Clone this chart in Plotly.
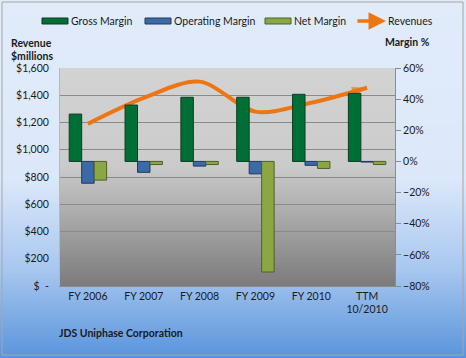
import base64, struct, zlib
import plotly.graph_objects as go

categories = ["FY 2006", "FY 2007", "FY 2008", "FY 2009", "FY 2010", "TTM<br>10/2010"]
gross_margin = [30.4, 36.2, 41.2, 41.2, 43.1, 43.7]
operating_margin = [-14.0, -7.0, -3.0, -8.0, -2.5, -0.4]
net_margin = [-12.0, -2.0, -2.0, -71.0, -4.5, -2.0]
revenues = [1190, 1380, 1500, 1280, 1345, 1455]

left_ticks = [0, 200, 400, 600, 800, 1000, 1200, 1400, 1600]
left_labels = ["$  -", "$200", "$400", "$600", "$800", "$1,000", "$1,200", "$1,400", "$1,600"]

W, H = 466, 358
L, R, T, B = 60, 71, 68, 72
PW, PH = W - L - R, H - T - B

GREEN, GREEN_LN = "#006f35", "#0b3d22"
BLUE, BLUE_LN = "#3b6aa6", "#1f3a63"
OLIVE, OLIVE_LN = "#8ba743", "#4f6126"
ORANGE = "#ee7612"
FONT = "Lato"
FS = 10.5


def px(x):
    return (x - L) / PW


def py(y):
    return 1 - (y - T) / PH


def hex2rgb(h):
    h = h.lstrip('#')
    return tuple(int(h[i:i + 2], 16) for i in (0, 2, 4))


def gradient_png(stops, n=256):
    rows = []
    for i in range(n):
        t = i / (n - 1)
        for j in range(len(stops) - 1):
            t0, c0 = stops[j]
            t1, c1 = stops[j + 1]
            if t0 <= t <= t1:
                f = 0 if t1 == t0 else (t - t0) / (t1 - t0)
                a, b = hex2rgb(c0), hex2rgb(c1)
                rgb = tuple(int(round(a[k] + (b[k] - a[k]) * f)) for k in range(3))
                break
        rows.append(b"\x00" + bytes(rgb) * 4)
    raw = b"".join(rows)

    def chunk(tag, data):
        c = tag + data
        return struct.pack(">I", len(data)) + c + struct.pack(">I", zlib.crc32(c) & 0xffffffff)

    png = b"\x89PNG\r\n\x1a\n" + chunk(b"IHDR", struct.pack(">IIBBBBB", 4, n, 8, 2, 0, 0, 0)) \
        + chunk(b"IDAT", zlib.compress(raw)) + chunk(b"IEND", b"")
    return "data:image/png;base64," + base64.b64encode(png).decode()


paper_grad = gradient_png([(0, "#e1ebfa"), (0.5, "#dce8fa"), (0.75, "#a9c8ef"), (1.0, "#5a95dc")])
plot_grad = gradient_png([(0, "#d3d3d3"), (0.45, "#cbcbcb"), (1.0, "#7c7c7c")])

fig = go.Figure()
fig.add_trace(go.Bar(x=categories, y=gross_margin, name="Gross Margin", yaxis="y2",
                     marker=dict(color=GREEN, line=dict(color=GREEN_LN, width=1))))
fig.add_trace(go.Bar(x=categories, y=operating_margin, name="Operating Margin", yaxis="y2",
                     marker=dict(color=BLUE, line=dict(color=BLUE_LN, width=1))))
fig.add_trace(go.Bar(x=categories, y=net_margin, name="Net Margin", yaxis="y2",
                     marker=dict(color=OLIVE, line=dict(color=OLIVE_LN, width=1))))
sizes = [0] * (len(revenues) - 1) + [16]
fig.add_trace(go.Scatter(x=categories, y=revenues, name="Revenues", yaxis="y", mode="lines+markers",
                         line=dict(color=ORANGE, width=4, shape="spline", smoothing=0.9),
                         marker=dict(symbol="arrow", angleref="previous", size=sizes, color=ORANGE,
                                     line=dict(width=0))))

# manual legend (swatches + labels) placed like the reference
legend_items = [("Gross Margin", GREEN, GREEN_LN, 42), ("Operating Margin", BLUE, BLUE_LN, 145),
                ("Net Margin", OLIVE, OLIVE_LN, 265)]
shapes = []
annotations = []
for name, col, lc, x0 in legend_items:
    shapes.append(dict(type="rect", xref="paper", yref="paper", x0=px(x0), x1=px(x0 + 26),
                       y0=py(24), y1=py(18), fillcolor=col, line=dict(color=lc, width=1), layer="above"))
    annotations.append(dict(text=name, xref="paper", yref="paper", x=px(x0 + 27), y=py(21),
                            xanchor="left", yanchor="middle", showarrow=False,
                            font=dict(family=FONT, size=FS, color="#1a1a1a")))
annotations.append(dict(text="", xref="paper", yref="paper", x=px(386), y=py(21), ax=-30, ay=0,
                        showarrow=True, arrowhead=2, arrowsize=1, arrowwidth=3.5, arrowcolor=ORANGE))
annotations.append(dict(text="Revenues", xref="paper", yref="paper", x=px(386), y=py(21),
                        xanchor="left", yanchor="middle", showarrow=False,
                        font=dict(family=FONT, size=FS, color="#1a1a1a")))

shapes.append(dict(type="rect", xref="paper", yref="paper", x0=px(2), x1=px(463),
                   y0=py(355), y1=py(2), line=dict(color="#a6a6a6", width=1),
                   fillcolor="rgba(0,0,0,0)", layer="above"))

for txt, x, y in [("<b>Revenue</b>", 9, 43), ("<b>$millions</b>", 9, 56), ("<b>Margin %</b>", 383, 42),
                  ("<b>JDS Uniphase Corporation</b>", 57, 333)]:
    annotations.append(dict(text=txt, xref="paper", yref="paper", x=px(x), y=py(y),
                            xanchor="left", yanchor="middle", showarrow=False,
                            font=dict(family=FONT, size=FS, color="#1a1a1a")))

fig.update_layout(
    width=W, height=H,
    margin=dict(l=L, r=R, t=T, b=B, autoexpand=False),
    paper_bgcolor="#dfe9f9",
    plot_bgcolor="rgba(0,0,0,0)",
    font=dict(family=FONT, size=FS, color="#1a1a1a"),
    barmode="group", bargap=0.33, bargroupgap=0,
    showlegend=False,
    xaxis=dict(showgrid=False, showline=True, linecolor="#8c8c8c", ticks="",
               tickfont=dict(family=FONT, size=FS), fixedrange=True),
    yaxis=dict(range=[0, 1600], tickvals=left_ticks, ticktext=left_labels, showgrid=True,
               gridcolor="#8a8a8a", gridwidth=1, zeroline=False, showline=True, linecolor="#b8b8b8",
               ticks="", ticklabelstandoff=8, tickfont=dict(family=FONT, size=FS)),
    yaxis2=dict(range=[-80, 60], dtick=20, ticksuffix="%", overlaying="y", side="right",
                showgrid=False, zeroline=False, showline=True, linecolor="#8c8c8c",
                ticks="outside", ticklen=5, tickcolor="#8c8c8c", tickfont=dict(family=FONT, size=FS)),
    images=[
        dict(source=paper_grad, xref="paper", yref="paper", x=-L / PW, y=1 + T / PH,
             sizex=W / PW, sizey=H / PH, sizing="stretch", layer="below", xanchor="left", yanchor="top"),
        dict(source=plot_grad, xref="paper", yref="paper", x=0, y=1, sizex=1, sizey=1,
             sizing="stretch", layer="below", xanchor="left", yanchor="top"),
    ],
    shapes=shapes,
    annotations=annotations,
)

fig.write_html("out.html", config={"displayModeBar": False},
               post_script="document.body.style.margin='0';document.body.style.overflow='hidden';")
